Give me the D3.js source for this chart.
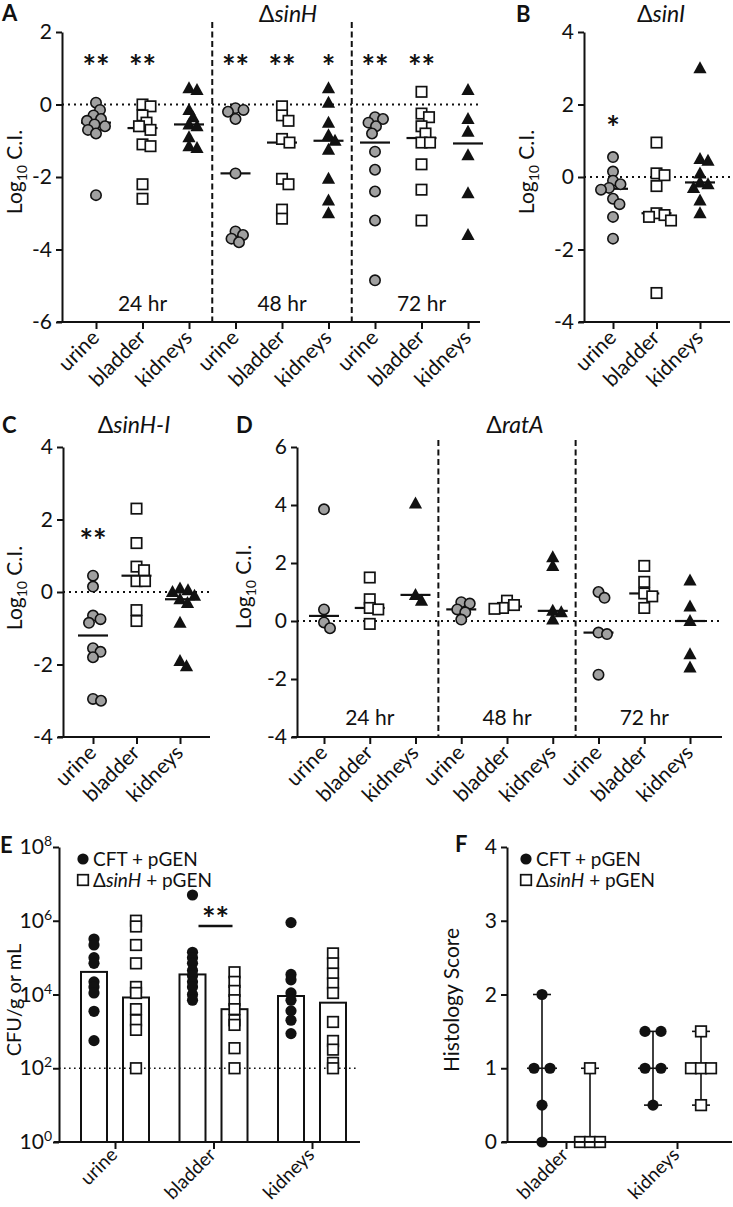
<!DOCTYPE html>
<html><head><meta charset="utf-8">
<script src="https://cdn.jsdelivr.net/npm/d3@7"></script>
<style>
body{margin:0;background:#fff}
svg{display:block}
</style>
</head><body>
<svg id="chart" width="733" height="1207"></svg>
<script>
// ---------------- DATA ----------------
const organs = ["urine", "bladder", "kidneys"];
const timepoints = ["24 hr", "48 hr", "72 hr"];

// Panel A: ΔsinH, log10 C.I. per timepoint [24 hr, 48 hr, 72 hr]
const sinH_urine = [
  [0.05, -0.15, -0.3, -0.4, -0.45, -0.55, -0.6, -0.7, -0.8, -2.5],
  [-0.1, -0.15, -0.2, -0.4, -1.9, -3.5, -3.6, -3.7, -3.8],
  [-0.35, -0.4, -0.5, -0.6, -0.8, -1.3, -1.8, -2.4, -3.2, -4.85]
];
const sinH_bladder = [
  [0.0, -0.05, -0.3, -0.5, -0.6, -0.7, -1.1, -1.15, -2.2, -2.6],
  [-0.05, -0.3, -0.45, -0.95, -1.05, -2.05, -2.2, -2.9, -3.15],
  [0.35, -0.25, -0.35, -0.6, -0.8, -1.05, -1.05, -1.65, -2.35, -3.2]
];
const sinH_kidneys = [
  [0.45, 0.4, -0.15, -0.35, -0.55, -0.6, -0.9, -1.15, -1.2],
  [0.45, 0.05, -0.5, -0.85, -1.0, -1.25, -2.05, -2.65, -3.0],
  [0.4, -0.4, -0.75, -1.4, -2.45, -3.6]
];
const sinH_sig = [["**", "**", ""], ["**", "**", "*"], ["**", "**", ""]];

// Panel B: ΔsinI
const sinI_urine = [0.55, 0.15, -0.1, -0.2, -0.3, -0.35, -0.6, -0.75, -1.1, -1.7];
const sinI_bladder = [0.95, 0.1, 0.05, -0.25, -1.0, -1.05, -1.1, -1.2, -3.2];
const sinI_kidneys = [3.0, 0.5, 0.45, 0.1, -0.15, -0.2, -0.3, -0.65, -1.0];
const sinI_sig = ["*", "", ""];

// Panel C: ΔsinH-I
const sinHI_urine = [0.45, 0.15, -0.65, -0.75, -0.85, -1.55, -1.65, -1.8, -2.95, -3.0];
const sinHI_bladder = [2.3, 1.35, 0.7, 0.6, 0.3, 0.3, -0.5, -0.8];
const sinHI_kidneys = [0.1, 0.05, 0.0, -0.1, -0.2, -0.3, -0.85, -1.9, -2.05];
const sinHI_sig = ["**", "", ""];

// Panel D: ΔratA per timepoint
const ratA_urine = [[3.85, 0.4, -0.05, -0.25], [0.65, 0.6, 0.4, 0.3, 0.05], [1.0, 0.8, -0.4, -0.45, -1.85]];
const ratA_bladder = [[1.5, 0.75, 0.45, 0.4, -0.1], [0.7, 0.55, 0.45, 0.42], [1.9, 1.35, 0.95, 0.85, 0.45]];
const ratA_kidneys = [[4.05, 0.9, 0.7], [2.2, 1.9, 0.35, 0.3, 0.05], [1.4, 0.5, 0.0, -1.15, -1.6]];
const ratA_sig = [["", "", ""], ["", "", ""], ["", "", ""]];

// Panel E: CFU/g or mL
const cfu_CFT = [
  [3.2e5, 2.2e5, 1e5, 7e4, 2.2e4, 1.6e4, 1.1e4, 3.5e3, 5.6e2],
  [5e6, 1.4e5, 1e5, 7e4, 4.5e4, 3.2e4, 2.2e4, 1.6e4, 1e4, 7e3],
  [8.9e5, 3.5e4, 2.5e4, 1.1e4, 7e3, 3.6e3, 2e3, 8.7e2]
];
const cfu_sinH = [
  [1e6, 7e5, 2.2e5, 7e4, 1.6e4, 1.1e4, 4e3, 2e3, 1.1e3, 1e2],
  [4e4, 2.2e4, 1.25e4, 7e3, 4e3, 2e3, 1.5e3, 3.5e2, 1e2],
  [1.3e5, 7e4, 3.7e4, 2e4, 1.1e4, 1.8e3, 5.5e2, 3.2e2, 1.4e2, 1e2]
];
const cfu_CFT_bar = [4.1e4, 3.5e4, 9.1e3];
const cfu_sinH_bar = [8.3e3, 4e3, 6e3];
const cfu_sig = ["", "**", ""];
const cfu_limit = 1e2;
const cfu_ticks = [1, 1e2, 1e4, 1e6, 1e8];

// Panel F: histology score
const histoOrgans = ["bladder", "kidneys"];
const histo_CFT = [[2, 1, 1, 0.5, 0], [1.5, 1.5, 1, 1, 0.5]];
const histo_sinH = [[1, 0, 0, 0], [1.5, 1, 1, 1, 0.5]];
const histo_ticks = [0, 1, 2, 3, 4];

const legendLabels = ["CFT + pGEN", "sinH"];

// ---------------- DRAWING ----------------
const FONT = "Lato, 'Open Sans', 'DejaVu Sans', sans-serif";
const INK = "#111";
const GRAY = "#a0a0a0";
const FS = 21;
const svg = d3.select("#chart").style("font-family", FONT);
const shapeOf = {urine: "circle", bladder: "square", kidneys: "triangle"};

function styleAxis(sel, fs) {
  sel.attr("font-family", FONT).attr("font-size", fs || FS);
  sel.select(".domain").attr("stroke", INK).attr("stroke-width", 2);
  sel.selectAll(".tick line").attr("stroke", INK).attr("stroke-width", 2);
  sel.selectAll(".tick text").attr("fill", INK);
}

function swarm(values, y, minDist) {
  const order = values.map((v, i) => i).sort((a, b) => values[b] - values[a]);
  const placed = [];
  const off = new Array(values.length).fill(0);
  for (const i of order) {
    const py = y(values[i]);
    let chosen = 0;
    outer: for (let k = 0; k < 80; k++) {
      const cands = k === 0 ? [0] : [k * 0.5, -k * 0.5];
      for (const dx of cands) {
        if (placed.every(p => Math.hypot(p.dx - dx, p.py - py) >= minDist)) { chosen = dx; break outer; }
      }
    }
    off[i] = chosen;
    placed.push({dx: chosen, py});
  }
  return off;
}

function drawMarks(g, shape, pts) {
  const sel = g.append("g");
  if (shape === "circle") {
    sel.selectAll("circle").data(pts).join("circle")
      .attr("cx", d => d.x).attr("cy", d => d.y).attr("r", 5.2)
      .attr("fill", GRAY).attr("stroke", INK).attr("stroke-width", 1.6);
  } else if (shape === "square") {
    sel.selectAll("rect").data(pts).join("rect")
      .attr("x", d => d.x - 5.2).attr("y", d => d.y - 5.2).attr("width", 10.4).attr("height", 10.4)
      .attr("fill", "#fff").attr("stroke", INK).attr("stroke-width", 1.7);
  } else if (shape === "triangle") {
    sel.selectAll("path").data(pts).join("path")
      .attr("d", d => `M${d.x},${d.y - 7}L${d.x + 6.6},${d.y + 5}L${d.x - 6.6},${d.y + 5}Z`)
      .attr("fill", INK);
  } else if (shape === "dot") {
    sel.selectAll("circle").data(pts).join("circle")
      .attr("cx", d => d.x).attr("cy", d => d.y).attr("r", 5.6).attr("fill", INK);
  } else if (shape === "box") {
    sel.selectAll("rect").data(pts).join("rect")
      .attr("x", d => d.x - 5.3).attr("y", d => d.y - 5.3).attr("width", 10.6).attr("height", 10.6)
      .attr("fill", "#fff").attr("stroke", INK).attr("stroke-width", 1.7);
  }
}

function asterisk(g, x, yCenter, txt) {
  g.append("text").attr("x", x).attr("y", yCenter + 18.5).attr("text-anchor", "middle")
    .attr("font-size", 32).attr("font-weight", "bold").attr("fill", INK).text(txt);
}

function titleText(g, x, y, plain, ital, anchor) {
  const t = g.append("text").attr("x", x).attr("y", y).attr("text-anchor", anchor || "middle")
    .attr("font-size", 23).attr("fill", INK);
  t.append("tspan").text(plain);
  t.append("tspan").attr("font-style", "italic").text(ital);
}

function panelLetter(g, x, y, L) {
  g.append("text").attr("x", x).attr("y", y).attr("font-size", 22).attr("font-weight", "bold").attr("fill", INK).text(L);
}

function logCILabel(g, x, y) {
  const t = g.append("text").attr("transform", `translate(${x},${y}) rotate(-90)`)
    .attr("text-anchor", "middle").attr("font-size", FS).attr("fill", INK);
  t.append("tspan").text("Log");
  t.append("tspan").attr("font-size", 14).attr("dy", 5).text("10");
  t.append("tspan").attr("dy", -5).text(" C.I.");
}

function ciPanel(cfg) {
  const g = svg.append("g");
  const y = d3.scaleLinear().domain(cfg.yDomain).range([cfg.yBottom, cfg.yTop]);
  const cats = [];
  cfg.tps.forEach((tp, t) => organs.forEach((o, k) => {
    cats.push({id: t + "|" + o, organ: o, t, values: cfg.series[k][t], sig: cfg.sig[t][k]});
  }));
  const x = d3.scalePoint().domain(cats.map(c => c.id)).range([cfg.xFirst, cfg.xLast]);

  // reference line at 0
  g.append("line").attr("x1", cfg.yAxisX).attr("x2", cfg.xEnd).attr("y1", y(0)).attr("y2", y(0))
    .attr("stroke", INK).attr("stroke-width", 2).attr("stroke-dasharray", "2,4");

  // timepoint separators
  for (let t = 1; t < cfg.tps.length; t++) {
    const sx = (x(cats[t * 3 - 1].id) + x(cats[t * 3].id)) / 2;
    g.append("line").attr("x1", sx).attr("x2", sx).attr("y1", cfg.sepTop).attr("y2", cfg.yBottom)
      .attr("stroke", INK).attr("stroke-width", 2).attr("stroke-dasharray", "6,3.5");
  }
  // timepoint labels
  if (cfg.tps.length > 1) {
    cfg.tps.forEach((tp, t) => {
      g.append("text").attr("x", x(cats[t * 3 + 1].id)).attr("y", cfg.tpY).attr("text-anchor", "middle")
        .attr("font-size", FS).attr("fill", INK).text(tp);
    });
  }

  // axes
  const ya = g.append("g").attr("transform", `translate(${cfg.yAxisX},0)`)
    .call(d3.axisLeft(y).tickValues(d3.range(cfg.yDomain[0], cfg.yDomain[1] + 1, 2))
      .tickSize(6).tickSizeOuter(0).tickPadding(4).tickFormat(d => String(d)));
  styleAxis(ya);
  const xa = g.append("g").attr("transform", `translate(0,${cfg.yBottom})`)
    .call(d3.axisBottom(x).tickSize(7).tickSizeOuter(0).tickFormat(id => id.split("|")[1]));
  styleAxis(xa);
  xa.select(".domain").attr("d", `M${cfg.yAxisX - 5},0H${cfg.xEnd}`);
  xa.selectAll(".tick text").attr("x", 0).attr("y", 0).attr("dy", 0)
    .attr("text-anchor", "end").attr("transform", "translate(4,17) rotate(-45)");

  // medians, points, significance
  cats.forEach(c => {
    const cx = x(c.id);
    const med = d3.median(c.values);
    g.append("line").attr("x1", cx - 15).attr("x2", cx + 15).attr("y1", y(med)).attr("y2", y(med))
      .attr("stroke", INK).attr("stroke-width", 2.2);
    const offs = swarm(c.values, y, 8.2);
    const pts = c.values.map((v, i) => ({x: cx + offs[i], y: y(v)}));
    drawMarks(g, shapeOf[c.organ], pts);
    if (c.sig) asterisk(g, cx, y(cfg.sigLevel), c.sig);
  });
  return g;
}

// Panel A
const gA = ciPanel({
  yDomain: [-6, 2], yBottom: 322, yTop: 32, yAxisX: 62, xEnd: 480, xFirst: 96, xLast: 468,
  tps: timepoints, series: [sinH_urine, sinH_bladder, sinH_kidneys], sig: sinH_sig,
  sepTop: 22, tpY: 311, sigLevel: 1.21
});
panelLetter(gA, 2, 21, "A");
titleText(gA, 288, 22, "Δ", "sinH");
logCILabel(gA, 22, 172);

// Panel B
const gB = ciPanel({
  yDomain: [-4, 4], yBottom: 322, yTop: 32, yAxisX: 584, xEnd: 730, xFirst: 613, xLast: 700,
  tps: [""], series: [[sinI_urine], [sinI_bladder], [sinI_kidneys]], sig: [sinI_sig],
  sepTop: 22, tpY: 311, sigLevel: 1.52
});
panelLetter(gB, 516, 22, "B");
titleText(gB, 661, 22, "Δ", "sinI");
logCILabel(gB, 534, 172);

// Panel C
const gC = ciPanel({
  yDomain: [-4, 4], yBottom: 737, yTop: 447, yAxisX: 63, xEnd: 210, xFirst: 93, xLast: 180,
  tps: [""], series: [[sinHI_urine], [sinHI_bladder], [sinHI_kidneys]], sig: [sinHI_sig],
  sepTop: 440, tpY: 725, sigLevel: 1.6
});
panelLetter(gC, 2, 433, "C");
titleText(gC, 134, 433, "Δ", "sinH-I");
logCILabel(gC, 22, 588);

// Panel D
const gD = ciPanel({
  yDomain: [-4, 6], yBottom: 737, yTop: 447, yAxisX: 297, xEnd: 722, xFirst: 324, xLast: 690,
  tps: timepoints, series: [ratA_urine, ratA_bladder, ratA_kidneys], sig: ratA_sig,
  sepTop: 440, tpY: 725, sigLevel: 5
});
panelLetter(gD, 236, 433, "D");
titleText(gD, 515, 433, "Δ", "ratA");
logCILabel(gD, 251, 587);

// Legend helper
function legend(g, x, y0) {
  drawMarks(g, "dot", [{x: x, y: y0}]);
  drawMarks(g, "box", [{x: x, y: y0 + 21}]);
  g.append("text").attr("x", x + 10).attr("y", y0 + 7).attr("font-size", 19).attr("fill", INK).text(legendLabels[0]);
  const t = g.append("text").attr("x", x + 10).attr("y", y0 + 28).attr("font-size", 19).attr("fill", INK);
  t.append("tspan").text("Δ");
  t.append("tspan").attr("font-style", "italic").text(legendLabels[1]);
  t.append("tspan").text(" + pGEN");
}

// Panel E
{
  const g = svg.append("g");
  const y = d3.scaleLog().domain([1, 1e8]).range([1142, 847]);
  const x = d3.scalePoint().domain(organs).range([115, 312]);
  const off = 21, bw = 26;
  // bars
  organs.forEach((o, i) => {
    [[cfu_CFT_bar[i], -off], [cfu_sinH_bar[i], off]].forEach(([v, dx]) => {
      g.append("rect").attr("x", x(o) + dx - bw / 2).attr("y", y(v)).attr("width", bw).attr("height", 1142 - y(v))
        .attr("fill", "#fff").attr("stroke", INK).attr("stroke-width", 2);
    });
  });
  // limit of detection
  g.append("line").attr("x1", 59).attr("x2", 358).attr("y1", y(cfu_limit)).attr("y2", y(cfu_limit))
    .attr("stroke", INK).attr("stroke-width", 1.6).attr("stroke-dasharray", "1.6,3.4");
  // points
  organs.forEach((o, i) => {
    drawMarks(g, "dot", cfu_CFT[i].map(v => ({x: x(o) - off, y: y(v)})));
    drawMarks(g, "box", cfu_sinH[i].map(v => ({x: x(o) + off, y: y(v)})));
    if (cfu_sig[i]) {
      g.append("line").attr("x1", x(o) - 15).attr("x2", x(o) + 19).attr("y1", 926).attr("y2", 926)
        .attr("stroke", INK).attr("stroke-width", 2.5);
      asterisk(g, x(o) + 2, 912, cfu_sig[i]);
    }
  });
  // axes
  const ya = g.append("g").attr("transform", "translate(59,0)")
    .call(d3.axisLeft(y).tickValues(cfu_ticks).tickSize(6).tickSizeOuter(0).tickPadding(1).tickFormat(() => ""));
  styleAxis(ya);
  ya.selectAll(".tick text").each(function(d) {
    const t = d3.select(this);
    t.append("tspan").text("10");
    t.append("tspan").attr("font-size", 14).attr("dy", -8).text(Math.round(Math.log10(d)));
  });
  const xa = g.append("g").attr("transform", "translate(0,1142)")
    .call(d3.axisBottom(x).tickSize(7).tickSizeOuter(0));
  styleAxis(xa, 19);
  xa.select(".domain").attr("d", "M54,0H360");
  xa.selectAll(".tick text").attr("x", 0).attr("y", 0).attr("dy", 0)
    .attr("text-anchor", "end").attr("transform", "translate(3,14) rotate(-45)");
  legend(g, 83, 859);
  panelLetter(g, 0, 853, "E");
  g.append("text").attr("transform", "translate(21,1000) rotate(-90)").attr("text-anchor", "middle")
    .attr("font-size", 20).attr("fill", INK).text("CFU/g or mL");
}

// Panel F
{
  const g = svg.append("g");
  const y = d3.scaleLinear().domain([0, 4]).range([1142, 847]);
  const x = d3.scalePoint().domain(histoOrgans).range([566, 677]);
  const off = 24;
  function rowLayout(values, spacing) {
    const groups = d3.group(values.map((v, i) => ({v, i})), d => d.v);
    const res = new Array(values.length);
    for (const [, arr] of groups) arr.forEach((d, j) => { res[d.i] = (j - (arr.length - 1) / 2) * spacing; });
    return res;
  }
  histoOrgans.forEach((o, i) => {
    [[histo_CFT[i], -off, "dot", 16], [histo_sinH[i], off, "box", 10]].forEach(([vals, dx, shape, sp]) => {
      const cx = x(o) + dx;
      const lo = d3.min(vals), hi = d3.max(vals), med = d3.median(vals);
      g.append("line").attr("x1", cx).attr("x2", cx).attr("y1", y(lo)).attr("y2", y(hi))
        .attr("stroke", INK).attr("stroke-width", 1.6);
      [[lo, 9], [hi, 9], [med, 15]].forEach(([v, w]) => {
        g.append("line").attr("x1", cx - w).attr("x2", cx + w).attr("y1", y(v)).attr("y2", y(v))
          .attr("stroke", INK).attr("stroke-width", 1.6);
      });
      const offs = rowLayout(vals, sp);
      drawMarks(g, shape, vals.map((v, k) => ({x: cx + offs[k], y: y(v)})));
    });
  });
  const ya = g.append("g").attr("transform", "translate(507,0)")
    .call(d3.axisLeft(y).tickValues(histo_ticks).tickSize(6).tickSizeOuter(0).tickPadding(4).tickFormat(d => String(d)));
  styleAxis(ya);
  const xa = g.append("g").attr("transform", "translate(0,1142)")
    .call(d3.axisBottom(x).tickSize(7).tickSizeOuter(0));
  styleAxis(xa, 19);
  xa.select(".domain").attr("d", "M502,0H732");
  xa.selectAll(".tick text").attr("x", 0).attr("y", 0).attr("dy", 0)
    .attr("text-anchor", "end").attr("transform", "translate(3,14) rotate(-45)");
  legend(g, 526, 859);
  panelLetter(g, 455, 852, "F");
  g.append("text").attr("transform", "translate(459,1000) rotate(-90)").attr("text-anchor", "middle")
    .attr("font-size", FS).attr("fill", INK).text("Histology Score");
}
</script>
</body></html>
